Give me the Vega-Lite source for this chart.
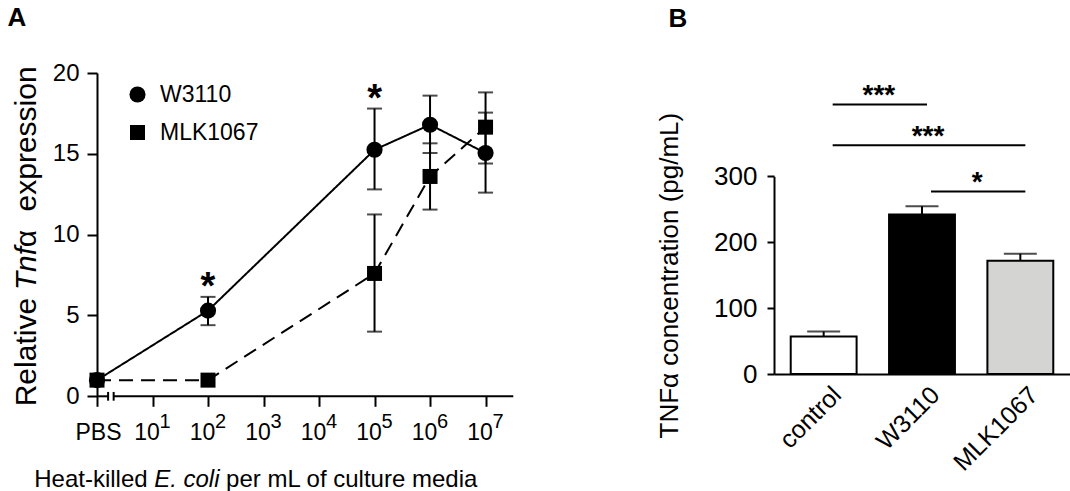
{
  "$schema": "https://vega.github.io/schema/vega-lite/v6.json",
  "background": "white",
  "padding": {"left": 7, "top": 5, "right": 0, "bottom": 0},
  "bounds": "flush",
  "spacing": 260,
  "config": {
    "font": "Liberation Sans",
    "view": {"stroke": null},
    "axis": {"grid": false, "domainColor": "black", "domainWidth": 2, "tickColor": "black", "tickWidth": 2, "labelColor": "black", "titleColor": "black", "labelFont": "Liberation Sans", "titleFont": "Liberation Sans", "titleFontWeight": "normal"},
    "text": {"font": "Liberation Sans", "color": "black"}
  },
  "hconcat": [
    {
      "width": 416.3,
      "height": 323.3,
      "data": {"values": [
        {"strain": "W3110", "e": 0, "mean": 1.0, "lo": null, "hi": null, "sig": ""},
        {"strain": "W3110", "e": 2, "mean": 5.3, "lo": 4.4, "hi": 6.15, "sig": "*"},
        {"strain": "W3110", "e": 5, "mean": 15.25, "lo": 12.8, "hi": 17.8, "sig": "*"},
        {"strain": "W3110", "e": 6, "mean": 16.8, "lo": 15.05, "hi": 18.6, "sig": ""},
        {"strain": "W3110", "e": 7, "mean": 15.05, "lo": 12.6, "hi": 17.55, "sig": ""},
        {"strain": "MLK1067", "e": 0, "mean": 1.0, "lo": null, "hi": null, "sig": ""},
        {"strain": "MLK1067", "e": 2, "mean": 1.0, "lo": null, "hi": null, "sig": ""},
        {"strain": "MLK1067", "e": 5, "mean": 7.6, "lo": 4.0, "hi": 11.25, "sig": ""},
        {"strain": "MLK1067", "e": 6, "mean": 13.6, "lo": 11.55, "hi": 15.65, "sig": ""},
        {"strain": "MLK1067", "e": 7, "mean": 16.65, "lo": 14.4, "hi": 18.8, "sig": ""}
      ]},
      "layer": [
        {
          "mark": {"type": "line", "color": "black", "strokeWidth": 2},
          "encoding": {
            "x": {"field": "e", "type": "quantitative", "scale": {"domain": [0, 7.5], "nice": false, "zero": false},
              "axis": {"values": [0, 1, 2, 3, 4, 5, 6, 7], "title": null, "domain": false, "tickSize": 10, "labelFontSize": 23, "labelPadding": 15,
                "labelOverlap": false, "labelFlush": false, "labelBound": false,
                "labelExpr": "datum.value == 0 ? 'PBS' : '10'",
                "labelOffset": {"condition": {"test": "datum.value == 0", "value": 1}, "value": -6}}},
            "y": {"field": "mean", "type": "quantitative", "scale": {"domain": [0, 20], "nice": false},
              "axis": {"values": [0, 5, 10, 15, 20], "title": null, "tickSize": 10, "labelFontSize": 24, "labelPadding": 8}},
            "strokeDash": {"field": "strain", "type": "nominal", "scale": {"domain": ["W3110", "MLK1067"], "range": [[1, 0], [14, 8]]}}
          }
        },
        {
          "transform": [{"filter": "datum.lo != null"}],
          "mark": {"type": "rule", "color": "black", "strokeWidth": 2},
          "encoding": {
            "x": {"field": "e", "type": "quantitative"},
            "y": {"field": "lo", "type": "quantitative"},
            "y2": {"field": "hi"}
          }
        },
        {
          "transform": [{"filter": "datum.lo != null"}],
          "mark": {"type": "tick", "orient": "horizontal", "color": "black", "thickness": 2, "size": 15},
          "encoding": {
            "x": {"field": "e", "type": "quantitative"},
            "y": {"field": "hi", "type": "quantitative"}
          }
        },
        {
          "transform": [{"filter": "datum.lo != null"}],
          "mark": {"type": "tick", "orient": "horizontal", "color": "black", "thickness": 2, "size": 15},
          "encoding": {
            "x": {"field": "e", "type": "quantitative"},
            "y": {"field": "lo", "type": "quantitative"}
          }
        },
        {
          "mark": {"type": "point", "filled": true, "color": "black", "opacity": 1},
          "encoding": {
            "x": {"field": "e", "type": "quantitative"},
            "y": {"field": "mean", "type": "quantitative"},
            "shape": {"field": "strain", "type": "nominal", "scale": {"domain": ["W3110", "MLK1067"], "range": ["circle", "square"]},
              "legend": {"title": null, "orient": "none", "legendX": 29, "legendY": 10, "labelFontSize": 23, "labelFont": "Liberation Sans", "labelColor": "black", "symbolFillColor": "black", "symbolStrokeColor": "black", "symbolStrokeWidth": 0, "symbolDash": [1, 0], "rowPadding": 14, "labelOffset": 11, "padding": 0}},
            "size": {"field": "strain", "type": "nominal", "scale": {"domain": ["W3110", "MLK1067"], "range": [260, 225]}}
          }
        },
        {
          "transform": [{"filter": "datum.sig != ''"}],
          "mark": {"type": "text", "fontSize": 38, "fontWeight": "bold", "baseline": "alphabetic", "dy": 2},
          "encoding": {
            "x": {"field": "e", "type": "quantitative"},
            "y": {"field": "hi", "type": "quantitative"},
            "text": {"field": "sig"}
          }
        },
        {
          "data": {"values": [{}]},
          "mark": {"type": "rule", "color": "black", "strokeWidth": 2},
          "encoding": {"x": {"datum": 0}, "x2": {"datum": 0.2}, "y": {"datum": 0}}
        },
        {
          "data": {"values": [{}]},
          "mark": {"type": "rule", "color": "black", "strokeWidth": 2},
          "encoding": {"x": {"datum": 0.3}, "x2": {"datum": 7.5}, "y": {"datum": 0}}
        },
        {
          "data": {"values": [{}]},
          "mark": {"type": "rule", "color": "black", "strokeWidth": 2},
          "encoding": {"x": {"datum": 0.2}, "y": {"datum": -0.27}, "y2": {"datum": 0.27}}
        },
        {
          "data": {"values": [{}]},
          "mark": {"type": "rule", "color": "black", "strokeWidth": 2},
          "encoding": {"x": {"datum": 0.3}, "y": {"datum": -0.27}, "y2": {"datum": 0.27}}
        },
        {
          "data": {"values": [{"e": 1, "p": "1"}, {"e": 2, "p": "2"}, {"e": 3, "p": "3"}, {"e": 4, "p": "4"}, {"e": 5, "p": "5"}, {"e": 6, "p": "6"}, {"e": 7, "p": "7"}]},
          "mark": {"type": "text", "fontSize": 20, "align": "left", "baseline": "top", "dx": 7, "dy": 16},
          "encoding": {"x": {"field": "e", "type": "quantitative"}, "y": {"datum": 0}, "text": {"field": "p"}}
        },
        {
          "data": {"values": [{}]},
          "mark": {"type": "text", "text": "Heat-killed", "fontSize": 24, "align": "right", "baseline": "alphabetic"},
          "encoding": {"x": {"datum": 0.912}, "y": {"datum": -5.62}}
        },
        {
          "data": {"values": [{}]},
          "mark": {"type": "text", "text": "E. coli", "fontSize": 24, "fontStyle": "italic", "align": "left", "baseline": "alphabetic"},
          "encoding": {"x": {"datum": 1.03}, "y": {"datum": -5.62}}
        },
        {
          "data": {"values": [{}]},
          "mark": {"type": "text", "text": "per mL of culture media", "fontSize": 24, "align": "left", "baseline": "alphabetic"},
          "encoding": {"x": {"datum": 2.326}, "y": {"datum": -5.62}}
        },
        {
          "data": {"values": [{}]},
          "mark": {"type": "text", "text": "Relative", "fontSize": 30, "angle": 270, "align": "left", "baseline": "middle"},
          "encoding": {"x": {"datum": -1.26}, "y": {"datum": -0.62}}
        },
        {
          "data": {"values": [{}]},
          "mark": {"type": "text", "text": "Tnf", "fontSize": 30, "fontStyle": "italic", "angle": 270, "align": "left", "baseline": "middle"},
          "encoding": {"x": {"datum": -1.26}, "y": {"datum": 6.56}}
        },
        {
          "data": {"values": [{}]},
          "mark": {"type": "text", "text": "α", "fontSize": 30, "angle": 270, "align": "left", "baseline": "middle"},
          "encoding": {"x": {"datum": -1.26}, "y": {"datum": 9.22}}
        },
        {
          "data": {"values": [{}]},
          "mark": {"type": "text", "text": "expression", "fontSize": 30, "angle": 270, "align": "right", "baseline": "middle"},
          "encoding": {"x": {"datum": -1.26}, "y": {"datum": 20.41}}
        },
        {
          "data": {"values": [{}]},
          "mark": {"type": "text", "text": "A", "fontSize": 26, "fontWeight": "bold", "align": "left", "baseline": "top"},
          "encoding": {"x": {"datum": -1.613}, "y": {"datum": 24.2}}
        }
      ]
    },
    {
      "width": 296,
      "height": 301,
      "resolve": {"scale": {"x": "independent"}},
      "layer": [
        {
          "data": {"values": [
            {"group": "control", "mean": 57, "hi": 64.5},
            {"group": "W3110", "mean": 242, "hi": 254.5},
            {"group": "MLK1067", "mean": 172, "hi": 182.5}
          ]},
          "encoding": {
            "x": {"field": "group", "type": "nominal", "sort": ["control", "W3110", "MLK1067"], "scale": {"paddingInner": 0.33, "paddingOuter": 0.17},
              "axis": {"title": null, "ticks": false, "labelAngle": -45, "labelFontSize": 25, "labelPadding": 8, "labelOffset": 5}}
          },
          "layer": [
            {
              "mark": {"type": "bar", "stroke": "black", "strokeWidth": 2},
              "encoding": {
                "y": {"field": "mean", "type": "quantitative", "scale": {"domain": [0, 300], "range": [301, 103.3], "nice": false},
                  "axis": {"values": [0, 100, 200, 300], "title": "TNFα concentration (pg/mL)", "titleFontSize": 26, "titlePadding": 31, "labelFontSize": 26, "tickSize": 7, "labelPadding": 10}},
                "fill": {"field": "group", "type": "nominal", "scale": {"domain": ["control", "W3110", "MLK1067"], "range": ["#ffffff", "#000000", "#d4d4d2"]}, "legend": null}
              }
            },
            {
              "mark": {"type": "rule", "color": "black", "strokeWidth": 2},
              "encoding": {
                "y": {"field": "mean", "type": "quantitative"},
                "y2": {"field": "hi"}
              }
            },
            {
              "mark": {"type": "tick", "orient": "horizontal", "color": "black", "thickness": 2, "size": 33},
              "encoding": {
                "y": {"field": "hi", "type": "quantitative"}
              }
            }
          ]
        },
        {
          "data": {"values": [
            {"from": "control", "to": "W3110", "label": "***", "level": 409},
            {"from": "control", "to": "MLK1067", "label": "***", "level": 347},
            {"from": "W3110", "to": "MLK1067", "label": "*", "level": 277}
          ]},
          "transform": [
            {"calculate": "indexof(['control','W3110','MLK1067'], datum.from)", "as": "i1"},
            {"calculate": "indexof(['control','W3110','MLK1067'], datum.to)", "as": "i2"},
            {"calculate": "(datum.i1 + datum.i2) / 2", "as": "mid"}
          ],
          "layer": [
            {
              "mark": {"type": "rule", "color": "black", "strokeWidth": 2, "xOffset": 9, "x2Offset": 5},
              "encoding": {
                "x": {"field": "i1", "type": "quantitative", "scale": {"domain": [-0.505, 2.505], "nice": false, "zero": false}, "axis": null},
                "x2": {"field": "i2"},
                "y": {"field": "level", "type": "quantitative"}
              }
            },
            {
              "mark": {"type": "text", "fontSize": 28, "fontWeight": "bold", "baseline": "alphabetic", "dy": 0, "dx": 6},
              "encoding": {
                "x": {"field": "mid", "type": "quantitative"},
                "y": {"field": "level", "type": "quantitative"},
                "text": {"field": "label"}
              }
            },
            {
              "data": {"values": [{}]},
              "mark": {"type": "text", "text": "B", "fontSize": 26, "fontWeight": "bold", "align": "left", "baseline": "top"},
              "encoding": {"x": {"datum": -1.579}, "y": {"datum": 558}}
            }
          ]
        }
      ]
    }
  ]
}
